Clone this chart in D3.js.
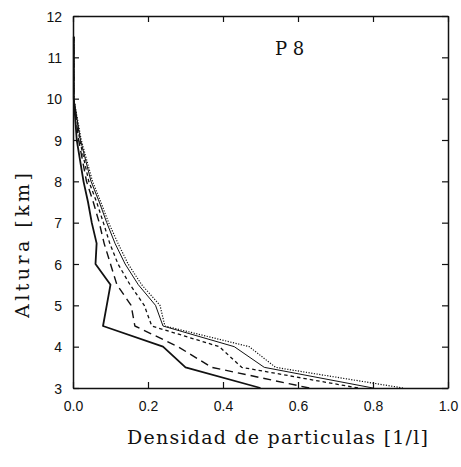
<!DOCTYPE html>
<html>
<head>
<meta charset="utf-8">
<script src="https://cdn.jsdelivr.net/npm/d3@7"></script>
<style>
  html, body { margin: 0; padding: 0; background: #fff; }
  svg { display: block; }
</style>
</head>
<body>
<svg id="chart" width="461" height="467"></svg>
<script>
// Altitude levels (km) at which each particle-density profile is sampled
const heights = [3, 3.5, 4, 4.5, 5, 5.5, 6, 6.5, 7, 7.5, 8, 9, 10, 11.5];

// Particle density profiles [1/l], one per curve
const profileA = [0.50, 0.30, 0.24, 0.08, 0.09, 0.10, 0.06, 0.063, 0.05, 0.04, 0.028, 0.01, 0.002, 0.002];
const profileB = [0.63, 0.37, 0.28, 0.165, 0.155, 0.117, 0.10, 0.083, 0.07, 0.054, 0.036, 0.015, 0.002, 0.002];
const profileC = [0.76, 0.45, 0.39, 0.21, 0.19, 0.152, 0.12, 0.098, 0.081, 0.063, 0.042, 0.018, 0.002, 0.002];
const profileD = [0.80, 0.51, 0.43, 0.24, 0.22, 0.174, 0.139, 0.112, 0.09, 0.07, 0.048, 0.02, 0.002, 0.002];
const profileE = [0.88, 0.54, 0.47, 0.245, 0.232, 0.183, 0.147, 0.12, 0.095, 0.074, 0.052, 0.022, 0.002, 0.002];

// Tick values and labels
const xTicks = [0, 0.2, 0.4, 0.6, 0.8, 1.0];
const xTickLabels = ["0.0", "0.2", "0.4", "0.6", "0.8", "1.0"];
const yTicks = [3, 4, 5, 6, 7, 8, 9, 10, 11, 12];

const panelLabel = "P 8";
const xTitle = "Densidad de particulas [1/l]";
const yTitle = "Altura [km]";

const svg = d3.select("#chart");
const plotLeft = 73, plotRight = 448, plotTop = 16, plotBottom = 388;

const x = d3.scaleLinear().domain([0, 1]).range([plotLeft, plotRight]);
const y = d3.scaleLinear().domain([3, 12]).range([plotBottom, plotTop]);

const ink = "#111";
const serif = "'DejaVu Serif', 'Liberation Serif', serif";

// Profiles with their line styles
const series = [
  { values: profileA, width: 1.8, dash: null },
  { values: profileB, width: 1.4, dash: "8,5" },
  { values: profileC, width: 1.3, dash: "3.5,3" },
  { values: profileD, width: 1.0, dash: null },
  { values: profileE, width: 1.2, dash: "1.2,1.5" }
];

const line = d3.line()
  .x(d => x(d.v))
  .y(d => y(d.h));

const curves = svg.append("g").attr("fill", "none").attr("stroke", ink);
series.forEach(s => {
  const pts = heights.map((h, i) => ({ h, v: s.values[i] }));
  curves.append("path")
    .datum(pts)
    .attr("d", line)
    .attr("stroke-width", s.width)
    .attr("stroke-dasharray", s.dash)
    .attr("stroke-linejoin", "round");
});

// Axes with inward ticks on all four sides
const tickLen = 6;
const axisBottom = d3.axisBottom(x).tickValues(xTicks).tickSizeInner(-tickLen).tickSizeOuter(0)
  .tickFormat((d, i) => xTickLabels[i]);
const axisTop = d3.axisTop(x).tickValues(xTicks).tickSizeInner(-tickLen).tickSizeOuter(0).tickFormat("");
const axisLeft = d3.axisLeft(y).tickValues(yTicks).tickSizeInner(-tickLen).tickSizeOuter(0)
  .tickFormat(d3.format("d"));
const axisRight = d3.axisRight(y).tickValues(yTicks).tickSizeInner(-tickLen).tickSizeOuter(0).tickFormat("");

function styleAxis(g) {
  g.select(".domain").attr("stroke", ink).attr("stroke-width", 1.5);
  g.selectAll(".tick line").attr("stroke", ink).attr("stroke-width", 1.2);
  g.selectAll(".tick text")
    .attr("fill", ink)
    .style("font-family", "'Liberation Sans', Arial, sans-serif")
    .style("font-size", "14px");
}

svg.append("g").attr("transform", `translate(0,${plotBottom})`).call(axisBottom).call(styleAxis)
  .selectAll(".tick text").attr("dy", "0").attr("y", 23);
svg.append("g").attr("transform", `translate(0,${plotTop})`).call(axisTop).call(styleAxis);
svg.append("g").attr("transform", `translate(${plotLeft},0)`).call(axisLeft).call(styleAxis)
  .selectAll(".tick text").attr("x", -11).attr("dy", "0.36em");
svg.append("g").attr("transform", `translate(${plotRight},0)`).call(axisRight).call(styleAxis);

// Panel label
svg.append("text")
  .attr("x", 275).attr("y", 55)
  .attr("fill", ink)
  .style("font-family", serif)
  .style("font-size", "18px")
  .text(panelLabel);

// Axis titles
svg.append("text")
  .attr("x", 127).attr("y", 444)
  .attr("fill", ink)
  .attr("textLength", 301)
  .attr("lengthAdjust", "spacing")
  .style("font-family", serif)
  .style("font-size", "19px")
  .text(xTitle);

svg.append("text")
  .attr("transform", "translate(29,318) rotate(-90)")
  .attr("fill", ink)
  .attr("textLength", 145)
  .attr("lengthAdjust", "spacing")
  .style("font-family", serif)
  .style("font-size", "19px")
  .text(yTitle);
</script>
</body>
</html>
